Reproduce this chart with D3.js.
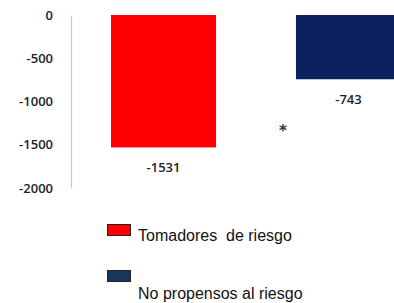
<!DOCTYPE html>
<html>
<head>
<meta charset="utf-8">
<script src="https://cdn.jsdelivr.net/npm/d3@7"></script>
<style>
  html, body { margin: 0; padding: 0; background: #fff; }
  svg { display: block; }
</style>
</head>
<body>
<div id="chart"></div>
<script>
// datos
const categories = ["Tomadores  de riesgo", "No propensos al riesgo"];
const values = [-1531, -743];
const tickValues = [0, -500, -1000, -1500, -2000];
const colors = ["#ff0000", "#0c225e"];
const legendColors = ["#ff0000", "#17365d"];

const W = 394, H = 303;
const svg = d3.select("#chart").append("svg")
  .attr("width", W).attr("height", H);

const y = d3.scaleLinear().domain([0, -2000]).range([15, 188]);
const x = d3.scaleBand().domain(categories).range([71, 441])
  .paddingInner(0.432).paddingOuter(0.216);

// eje y
const yAxis = d3.axisLeft(y).tickValues(tickValues).tickSize(0).tickPadding(18)
  .tickFormat(d => String(d));
const gy = svg.append("g").attr("transform", "translate(71,0)").call(yAxis);
gy.select(".domain").attr("stroke", "#c8c8c8").attr("stroke-width", 1.2);
gy.selectAll("text")
  .style("font-family", "'Open Sans', 'DejaVu Sans', sans-serif")
  .style("font-size", "13px")
  .style("font-weight", "600")
  .attr("fill", "#222");

// barras
svg.selectAll("rect.bar").data(values).enter().append("rect")
  .attr("class", "bar")
  .attr("x", (d, i) => x(categories[i]))
  .attr("y", y(0))
  .attr("width", x.bandwidth())
  .attr("height", d => y(d) - y(0))
  .attr("fill", (d, i) => colors[i]);

// etiquetas de valores
svg.selectAll("text.val").data(values).enter().append("text")
  .attr("class", "val")
  .attr("x", (d, i) => x(categories[i]) + x.bandwidth() / 2)
  .attr("y", d => y(d) + 25)
  .attr("text-anchor", "middle")
  .style("font-family", "'Open Sans', 'DejaVu Sans', sans-serif")
  .style("font-size", "13px")
  .style("font-weight", "600")
  .attr("fill", "#222")
  .text(d => String(d));

// asterisco de significancia
svg.append("text")
  .attr("x", 283).attr("y", 136)
  .attr("text-anchor", "middle")
  .style("font-family", "'DejaVu Sans', sans-serif")
  .style("font-size", "15px")
  .style("font-weight", "bold")
  .attr("fill", "#333")
  .text("*");

// leyenda
const legendY = [224, 270];
const textY = [241, 298.5];
const leg = svg.append("g");
categories.forEach((c, i) => {
  leg.append("rect")
    .attr("x", 107.5).attr("y", legendY[i] + 0.5)
    .attr("width", 23).attr("height", 11)
    .attr("fill", legendColors[i])
    .attr("stroke", "#222").attr("stroke-width", 1);
  leg.append("text")
    .attr("x", 138).attr("y", textY[i])
    .style("font-family", "'Liberation Sans', Arial, sans-serif")
    .style("font-size", "16px")
    .attr("fill", "#111")
    .style("white-space", "pre")
    .text(c);
});
</script>
</body>
</html>
